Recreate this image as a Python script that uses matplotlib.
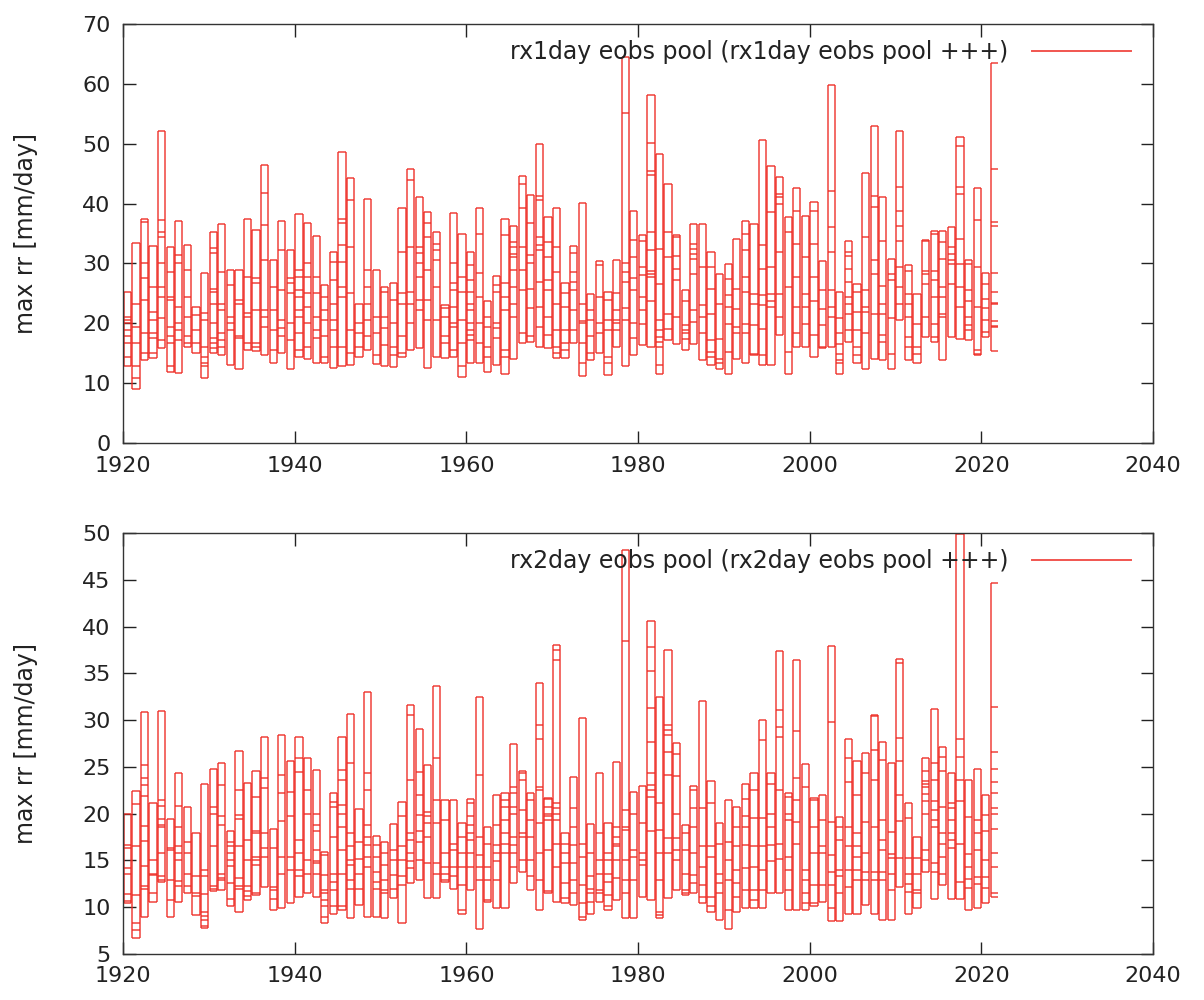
import matplotlib
matplotlib.use("Agg")
import matplotlib.pyplot as plt
from matplotlib.collections import LineCollection
from matplotlib.lines import Line2D

years = list(range(1920, 2022))

# rx1day pooled values per year (mm/day)
rx1day = [
    [25.3, 21.1, 20.5, 20.0, 18.9, 17.8, 16.7, 14.4, 12.8],
    [33.4, 23.3, 19.4, 16.7, 12.8, 10.8, 9.1],
    [37.5, 36.9, 30.0, 27.5, 23.9, 18.3, 15.0, 13.8],
    [32.9, 26.1, 21.9, 20.6, 18.3, 17.5, 15.0, 14.2],
    [52.2, 37.2, 35.3, 34.4, 30.0, 26.1, 24.4, 20.8, 17.2, 15.8],
    [32.7, 28.6, 24.4, 23.9, 19.4, 17.8, 16.7, 12.8, 11.9],
    [37.1, 31.4, 30.0, 22.8, 20.0, 18.9, 17.2, 11.7],
    [33.1, 28.9, 24.4, 21.1, 17.8, 16.7, 16.1],
    [22.8, 21.4, 18.9, 16.7, 15.0],
    [28.4, 21.7, 20.6, 16.1, 14.4, 13.3, 12.8, 10.8],
    [35.3, 32.5, 31.7, 25.8, 25.3, 23.3, 20.0, 17.5, 16.7, 15.8, 15.0],
    [36.6, 28.6, 23.3, 22.2, 18.3, 17.2, 16.1, 14.7],
    [28.9, 26.4, 21.1, 20.0, 18.9, 13.1],
    [28.9, 23.9, 23.3, 17.8, 17.5, 12.3],
    [37.5, 27.8, 21.7, 21.1, 16.7, 15.6],
    [35.6, 27.5, 26.7, 22.2, 16.7, 16.1, 15.3],
    [46.4, 41.7, 36.4, 30.6, 22.2, 21.1, 19.4, 14.7],
    [30.6, 26.1, 22.2, 18.9, 15.6, 13.3],
    [37.1, 32.2, 25.6, 20.6, 19.2, 17.8, 15.1],
    [32.2, 27.5, 26.7, 25.0, 20.0, 17.2, 12.3],
    [38.2, 28.9, 27.8, 25.6, 24.4, 22.2, 21.1, 18.3, 15.6, 14.4],
    [36.8, 30.0, 27.8, 25.0, 22.8, 20.0, 16.1, 14.0],
    [34.6, 27.8, 25.0, 21.1, 18.9, 17.5, 13.3],
    [26.4, 24.4, 22.2, 20.6, 17.8, 14.4, 13.4],
    [31.9, 30.3, 27.2, 23.3, 20.6, 18.9, 16.1, 12.5],
    [48.6, 37.5, 36.7, 33.1, 30.3, 26.1, 24.4, 16.1, 12.8],
    [44.2, 40.6, 32.8, 25.0, 18.9, 15.0, 13.1],
    [23.3, 20.0, 18.3, 16.1, 14.4],
    [40.8, 28.9, 26.1, 23.3, 20.6, 17.8, 15.6],
    [28.9, 21.1, 18.3, 14.7, 13.2],
    [26.1, 25.3, 21.1, 19.2, 16.4, 12.8],
    [26.8, 23.9, 20.0, 16.1, 14.7, 12.7],
    [39.3, 31.9, 25.0, 23.3, 17.8, 15.0, 14.4],
    [45.7, 43.9, 32.8, 25.3, 23.3, 20.0, 15.6],
    [41.1, 32.8, 31.7, 30.0, 27.8, 23.9, 22.2, 15.8],
    [38.6, 36.7, 34.4, 28.9, 23.9, 20.6, 12.5],
    [35.3, 33.3, 32.2, 30.6, 26.1, 20.6, 14.4],
    [23.1, 22.5, 21.1, 17.8, 16.7, 14.2],
    [38.4, 30.0, 26.7, 25.6, 22.8, 20.0, 19.4, 15.6, 14.4],
    [34.9, 27.8, 25.3, 20.6, 16.7, 12.8, 11.1],
    [31.9, 29.7, 27.2, 25.3, 23.3, 22.2, 20.0, 18.9, 18.1, 17.2, 13.3],
    [39.3, 34.9, 28.4, 24.4, 20.0, 16.7, 13.3],
    [23.8, 21.1, 19.4, 16.1, 14.4, 11.8],
    [27.9, 26.4, 25.3, 20.0, 19.2, 17.5, 13.0],
    [37.5, 34.7, 26.7, 24.4, 22.2, 15.6, 14.4, 11.6],
    [36.2, 33.6, 32.8, 31.6, 31.1, 28.9, 26.1, 23.3, 21.1, 14.0],
    [44.6, 43.3, 39.2, 32.8, 28.9, 25.6, 18.3, 16.7],
    [41.5, 36.7, 31.4, 30.0, 25.8, 22.5, 17.8, 16.9],
    [50.0, 41.3, 40.6, 34.4, 33.1, 32.2, 26.9, 22.8, 19.4, 16.1],
    [37.8, 33.6, 31.1, 27.2, 25.6, 21.1, 18.1, 15.8],
    [39.3, 32.8, 28.6, 23.3, 18.9, 16.1, 15.0, 14.2],
    [26.7, 25.0, 22.8, 18.9, 16.7, 15.6, 14.2],
    [32.9, 31.7, 28.6, 26.9, 25.6, 22.2, 18.9, 16.7],
    [40.1, 23.3, 20.3, 20.0, 16.7, 13.3, 11.2],
    [24.9, 22.2, 20.6, 17.8, 15.0, 13.8],
    [30.4, 29.7, 24.4, 20.0, 18.3, 15.0],
    [25.3, 23.9, 20.6, 18.9, 14.4, 13.3, 11.4],
    [30.6, 25.0, 22.2, 20.6, 20.0, 18.9, 16.1],
    [64.5, 55.1, 30.0, 28.6, 26.9, 22.5, 20.6, 12.9],
    [38.8, 33.9, 31.1, 27.5, 25.6, 20.0, 17.5, 14.7],
    [34.7, 33.8, 29.4, 28.0, 24.4, 22.2, 19.9, 16.4],
    [58.2, 50.2, 45.5, 44.7, 35.2, 32.2, 28.8, 28.3, 27.7, 23.8, 16.0],
    [48.3, 32.4, 26.6, 20.5, 18.8, 17.7, 16.9, 16.1, 13.0, 11.6],
    [43.3, 35.2, 31.1, 21.6, 19.1, 17.2],
    [34.7, 34.4, 31.3, 29.1, 27.2, 21.1, 16.6],
    [25.5, 23.8, 19.7, 18.8, 18.3, 17.4, 15.6],
    [36.6, 33.3, 32.4, 31.6, 30.8, 28.3, 22.2, 20.2, 16.6],
    [36.6, 29.4, 23.0, 21.1, 18.3, 13.9],
    [31.9, 29.4, 25.8, 21.6, 17.2, 15.2, 14.4, 13.0],
    [28.3, 23.3, 17.4, 14.1, 13.3, 12.4],
    [29.9, 27.4, 24.7, 22.7, 19.9, 15.2, 11.6],
    [34.1, 25.8, 22.4, 19.4, 18.3, 14.1],
    [37.1, 34.9, 32.2, 27.7, 25.2, 19.9, 18.3, 13.3],
    [36.6, 24.9, 23.3, 19.7, 14.9, 14.7],
    [50.6, 33.0, 29.1, 24.7, 23.0, 19.1, 14.7, 13.0],
    [46.3, 38.6, 29.4, 24.9, 23.8, 22.7, 13.0],
    [44.4, 41.6, 41.1, 39.9, 31.9, 24.9, 21.1, 18.0],
    [37.8, 35.2, 26.1, 15.2, 11.6],
    [42.6, 38.8, 33.3, 27.7, 22.7, 18.3, 16.1],
    [38.0, 31.1, 24.9, 22.7, 19.9, 16.1],
    [40.3, 38.8, 33.3, 27.7, 23.8, 18.0, 14.4],
    [30.4, 25.5, 22.4, 19.7, 16.1, 15.8],
    [59.8, 42.1, 36.1, 31.9, 25.5, 22.7, 21.1, 16.1],
    [25.2, 20.8, 18.3, 16.6, 14.9, 13.8, 13.3, 11.6],
    [33.7, 31.9, 31.3, 29.1, 26.9, 24.4, 23.3, 21.6, 18.8, 16.9],
    [26.6, 25.2, 21.9, 18.8, 16.1, 14.7, 13.3],
    [45.1, 34.4, 25.5, 22.7, 21.9, 18.3, 12.4],
    [53.0, 41.3, 39.4, 30.5, 28.3, 21.6, 14.0],
    [41.1, 33.8, 26.3, 23.3, 21.6, 18.0, 16.9, 13.9],
    [30.8, 28.3, 27.2, 20.8, 14.9, 12.4],
    [52.2, 42.7, 38.8, 36.3, 33.8, 29.4, 26.1, 23.3, 20.5],
    [29.7, 28.8, 24.9, 23.3, 21.1, 17.7, 16.1, 13.9],
    [24.9, 19.9, 16.1, 14.9, 13.4],
    [33.9, 33.8, 28.8, 28.3, 26.6, 21.1, 17.7],
    [35.5, 34.9, 28.8, 27.2, 24.4, 19.9, 17.7, 16.9],
    [35.5, 33.6, 30.8, 26.1, 24.4, 21.6, 21.1, 13.9],
    [36.1, 32.7, 31.6, 30.5, 29.9, 26.6, 17.7],
    [51.2, 49.6, 42.7, 41.6, 34.1, 29.9, 26.1, 22.7, 17.4],
    [30.5, 29.9, 25.5, 23.8, 21.1, 19.7, 18.8, 17.2],
    [42.6, 37.2, 29.4, 22.7, 15.5, 14.9, 14.7],
    [28.4, 26.5, 24.0, 22.5, 20.5, 18.5, 17.7],
    [63.5, 45.7, 36.9, 36.3, 28.4, 25.3, 23.4, 23.2, 20.4, 19.6, 19.3, 15.4],
]

# rx2day pooled values per year (mm/day)
rx2day = [
    [20.0, 16.7, 16.3, 14.2, 13.5, 11.4, 10.7, 10.4],
    [22.4, 21.0, 16.5, 11.3, 8.3, 7.6, 6.7],
    [30.9, 25.2, 23.8, 23.1, 21.9, 18.7, 17.1, 14.4, 12.3, 11.9, 9.0],
    [21.1, 15.0, 13.6, 13.4, 11.5, 10.6],
    [31.0, 21.5, 20.8, 19.4, 18.8, 18.6, 15.8, 13.3, 12.9, 12.7],
    [19.4, 16.3, 16.1, 12.9, 10.8, 9.0],
    [24.4, 20.8, 18.6, 16.5, 15.8, 15.1, 12.8, 12.3, 10.6],
    [20.7, 17.0, 15.8, 13.6, 12.3, 11.5],
    [17.9, 13.3, 11.5, 11.2, 9.2],
    [23.2, 14.0, 13.3, 11.4, 9.5, 9.1, 8.6, 8.0, 7.8],
    [24.8, 20.7, 20.0, 16.5, 12.3, 11.9, 11.7],
    [25.4, 23.1, 19.7, 18.8, 13.6, 13.1, 12.9, 11.8],
    [18.2, 17.0, 16.5, 15.8, 15.1, 14.4, 12.6, 10.9, 10.1],
    [26.7, 22.5, 19.9, 19.4, 16.5, 13.1, 12.3, 11.9, 9.5],
    [23.3, 17.2, 15.1, 12.3, 11.7, 11.2, 10.8],
    [24.6, 21.8, 18.2, 17.9, 15.4, 15.1, 14.5, 11.5, 11.3],
    [28.2, 23.8, 22.7, 17.9, 16.3, 15.4, 12.2],
    [18.4, 16.3, 12.2, 11.8, 10.9, 9.7],
    [28.4, 24.1, 22.2, 19.2, 15.4, 13.6, 9.9],
    [25.6, 22.3, 19.8, 15.4, 14.0, 10.4],
    [28.2, 25.9, 24.5, 17.2, 15.8, 14.0, 13.3, 11.1],
    [25.9, 22.5, 20.0, 15.1, 13.6, 11.5],
    [24.7, 20.0, 18.8, 18.1, 16.1, 14.9, 14.7, 13.6, 11.1],
    [15.9, 15.6, 13.4, 11.8, 11.5, 10.8, 10.1, 9.0, 8.3],
    [22.2, 21.3, 20.7, 17.5, 13.6, 12.7, 11.8, 10.1, 9.3],
    [28.2, 24.7, 23.6, 20.9, 20.0, 18.6, 16.1, 13.6, 10.1, 9.7],
    [30.6, 25.4, 17.9, 16.5, 15.0, 14.5, 12.9, 12.0, 8.9],
    [20.5, 17.0, 15.2, 13.5, 12.0, 10.2],
    [33.0, 24.3, 22.5, 18.8, 17.5, 16.6, 15.4, 14.3, 9.0],
    [17.6, 16.6, 15.4, 13.8, 12.7, 12.0, 9.0],
    [17.0, 15.8, 14.5, 12.9, 11.8, 11.5, 8.8],
    [18.9, 16.1, 15.0, 13.4, 12.0, 11.0],
    [21.2, 19.7, 16.5, 15.0, 13.3, 12.4, 8.3],
    [31.6, 30.5, 23.6, 17.9, 17.2, 15.8, 14.9, 14.2, 12.6],
    [29.0, 24.5, 22.0, 19.9, 18.1, 17.0, 15.0, 12.9],
    [25.2, 20.2, 19.7, 19.0, 17.5, 14.7, 11.0],
    [33.6, 25.9, 21.5, 19.0, 14.7, 13.6, 11.0],
    [21.5, 19.3, 15.8, 14.3, 13.6, 12.9, 12.7],
    [21.5, 16.8, 16.1, 14.3, 13.3, 12.0],
    [19.0, 17.5, 15.8, 14.3, 12.4, 9.7, 9.3],
    [21.6, 21.1, 19.7, 18.8, 17.9, 17.2, 15.8, 14.3, 11.8],
    [32.5, 24.1, 17.5, 15.6, 14.3, 12.9, 7.7],
    [18.6, 16.8, 14.3, 12.9, 10.8, 10.6],
    [22.0, 18.8, 16.6, 15.8, 14.9, 12.9, 9.9],
    [22.2, 21.5, 20.7, 19.3, 17.9, 16.8, 15.8, 9.9],
    [27.4, 22.9, 22.2, 20.7, 20.0, 17.5, 16.6, 15.8, 14.3, 12.6],
    [24.6, 24.3, 23.6, 20.4, 17.9, 17.5, 15.0, 13.8],
    [22.2, 21.5, 19.3, 17.5, 15.0, 13.3, 11.8],
    [34.0, 29.5, 28.0, 22.9, 22.5, 19.0, 15.8, 12.9, 9.7],
    [21.7, 21.6, 20.7, 20.0, 19.7, 19.3, 16.1, 11.7, 11.5],
    [38.0, 37.5, 36.4, 21.1, 20.6, 20.0, 19.3, 16.8, 14.3, 10.6],
    [17.9, 16.8, 15.8, 14.7, 12.6, 11.0, 10.4],
    [23.9, 20.6, 18.6, 16.6, 14.7, 12.9, 11.5, 10.2],
    [30.2, 16.8, 15.4, 12.4, 10.4, 9.0, 8.6],
    [18.9, 15.8, 13.3, 12.0, 11.5, 10.6, 9.3],
    [24.3, 17.9, 15.0, 13.6, 11.8, 11.5, 10.6],
    [19.0, 15.8, 15.0, 13.6, 12.7, 11.3, 10.1, 9.7],
    [25.5, 18.6, 17.5, 16.8, 16.5, 15.0, 13.1, 10.8],
    [48.2, 38.5, 20.4, 18.6, 18.3, 15.0, 12.9, 11.5, 8.8],
    [22.3, 20.0, 16.1, 15.4, 12.9, 8.8],
    [23.0, 19.0, 15.8, 15.0, 14.5, 11.1],
    [40.6, 37.8, 35.2, 31.3, 27.7, 24.3, 23.1, 22.5, 21.8, 18.1, 10.8],
    [32.5, 21.1, 18.3, 15.8, 12.9, 9.5, 9.2, 8.8],
    [37.5, 29.5, 28.9, 28.4, 26.6, 24.1, 17.4, 15.8, 11.0],
    [27.6, 26.4, 24.0, 20.0, 17.4, 16.1, 15.0, 11.8],
    [18.8, 17.9, 16.1, 13.6, 11.8, 11.5, 11.3],
    [23.0, 22.5, 20.6, 18.6, 15.8, 13.4, 12.6, 11.5],
    [32.0, 20.6, 16.5, 14.3, 12.4, 11.1, 10.4],
    [23.5, 21.1, 16.5, 15.4, 11.1, 10.1, 9.5],
    [19.0, 16.8, 13.6, 12.6, 11.5, 8.6],
    [21.5, 17.0, 15.0, 12.9, 9.7, 7.7],
    [20.7, 18.6, 16.5, 14.0, 12.6, 11.1, 9.5],
    [23.2, 21.6, 19.7, 18.6, 16.6, 14.2, 11.8, 9.9],
    [24.4, 22.5, 19.5, 16.5, 14.3, 11.8, 10.8, 9.9],
    [30.0, 27.9, 19.5, 16.5, 14.0, 11.8, 9.9],
    [24.3, 23.2, 20.0, 18.6, 16.6, 14.9, 11.5],
    [37.4, 31.1, 29.3, 28.2, 22.5, 16.8, 15.2, 11.5],
    [22.2, 21.8, 20.0, 19.3, 15.4, 14.0, 11.8, 9.7],
    [36.4, 28.8, 23.8, 21.5, 19.1, 16.8, 9.7],
    [25.3, 22.9, 14.0, 12.9, 11.5, 10.4, 9.7],
    [21.7, 21.5, 18.6, 15.8, 12.4, 10.4, 10.1],
    [22.0, 19.3, 16.5, 15.8, 12.4, 10.6],
    [37.9, 29.8, 19.1, 15.6, 13.8, 12.4, 9.9, 8.5],
    [19.6, 18.6, 17.2, 14.0, 13.3, 11.5, 8.5],
    [28.0, 25.9, 23.4, 18.6, 16.5, 14.0, 12.2, 9.3],
    [25.6, 22.0, 17.9, 16.5, 15.4, 14.0, 12.9, 9.3],
    [26.5, 24.3, 19.1, 15.8, 13.8, 12.9, 10.2],
    [30.5, 30.4, 26.8, 23.6, 18.6, 13.8, 12.9, 9.3],
    [27.7, 25.7, 19.3, 17.2, 16.1, 13.8, 12.9, 8.6],
    [25.4, 18.0, 15.7, 15.3, 13.6, 11.8, 8.6],
    [36.5, 36.1, 28.1, 25.6, 22.0, 19.2, 15.3, 12.2],
    [21.1, 19.5, 15.3, 13.6, 12.5, 11.6, 9.3],
    [17.5, 15.3, 13.6, 11.8, 11.5, 9.9],
    [25.9, 24.6, 23.5, 23.2, 22.8, 22.1, 21.4, 20.0, 16.1, 15.0, 13.8],
    [31.2, 25.4, 23.6, 21.4, 20.4, 19.3, 18.6, 14.7, 13.8, 10.9],
    [27.1, 26.1, 24.6, 20.7, 17.9, 16.8, 15.4, 13.6, 12.4],
    [24.3, 21.1, 20.6, 19.3, 17.9, 17.2, 16.3, 10.9],
    [49.9, 28.0, 26.1, 23.6, 21.4, 16.8, 12.7, 10.9],
    [23.6, 19.6, 15.7, 14.3, 13.0, 12.1, 9.7],
    [24.8, 19.3, 17.9, 16.1, 13.2, 12.5, 9.9],
    [22.0, 19.9, 18.2, 15.0, 13.2, 12.1, 10.4],
    [44.7, 31.4, 26.6, 24.8, 23.4, 22.2, 20.6, 20.0, 18.4, 15.8, 14.3, 11.5, 11.1],
]

panels = [
    {"values": rx1day, "ylim": (0, 70), "yticks": list(range(0, 71, 10)),
     "label": "rx1day eobs pool (rx1day eobs pool +++)"},
    {"values": rx2day, "ylim": (5, 50), "yticks": list(range(5, 51, 5)),
     "label": "rx2day eobs pool (rx2day eobs pool +++)"},
]
xticks = list(range(1920, 2041, 20))

RED = "#ee2a22"
TXT = "#222222"
plt.rcParams["font.family"] = ["DejaVu Sans"]

fig = plt.figure(figsize=(12.04, 10), dpi=100)
axes = [fig.add_axes([0.1022, 0.557, 0.8555, 0.419]),
        fig.add_axes([0.1022, 0.046, 0.8555, 0.421])]

d = 0.08
for ax, p in zip(axes, panels):
    segs = []
    n = len(years)
    for i, (yr, vals) in enumerate(zip(years, p["values"])):
        lo, hi = min(vals), max(vals)
        x0, x1 = yr + d, yr + 1 - d
        segs.append([(x0, lo), (x0, hi)])
        if i < n - 1:
            segs.append([(x1, lo), (x1, hi)])
        for v in vals:
            segs.append([(x0, v), (x1, v)])
    lc = LineCollection(segs, colors=RED, linewidths=1.3, alpha=0.75)
    ax.add_collection(lc)
    ax.set_xlim(1920, 2040)
    ax.set_ylim(*p["ylim"])
    ax.set_xticks(xticks)
    ax.set_yticks(p["yticks"])
    ax.tick_params(direction="in", length=9, width=1, top=True, right=True,
                   labelsize=16, pad=9, colors=TXT)
    ax.tick_params(axis="x", pad=9)
    for s in ax.spines.values():
        s.set_color("#333333")
        s.set_linewidth(1.0)
    ax.set_ylabel("max rr [mm/day]", fontsize=17, color=TXT)
    ax.yaxis.set_label_coords(-0.083, 0.5)
    h = Line2D([], [], color=RED, lw=1.4, alpha=0.8)
    ax.legend([h], [p["label"]], loc="upper right", frameon=False,
              markerfirst=False, handlelength=4.2, fontsize=17,
              bbox_to_anchor=(0.99, 0.99), borderaxespad=0.1,
              handletextpad=1.0, labelcolor=TXT)

fig.savefig("out.png", dpi=100)
